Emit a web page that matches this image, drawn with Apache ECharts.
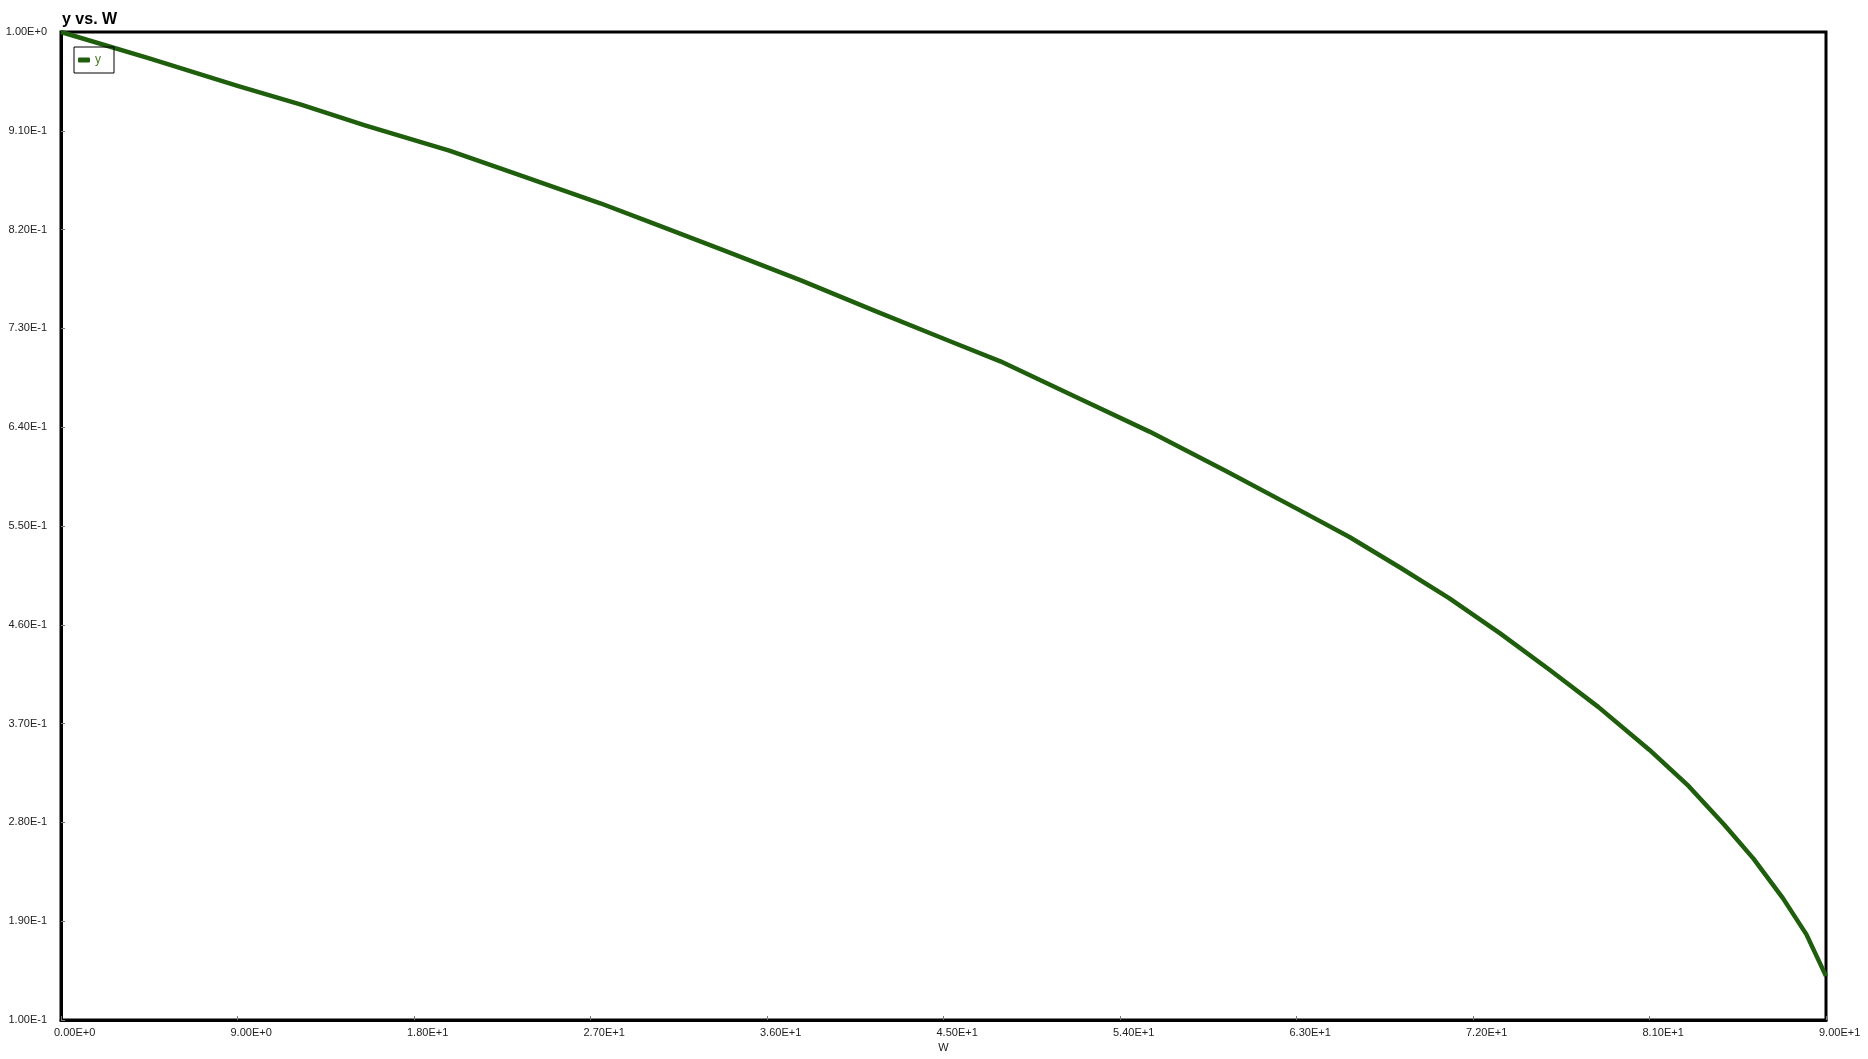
<!DOCTYPE html>
<html>
<head>
<meta charset="utf-8">
<script src="https://cdn.jsdelivr.net/npm/echarts@6/dist/echarts.min.js"></script>
<style>
html,body{margin:0;padding:0;background:#fff;}
#c{width:1868px;height:1059px;}
</style>
</head>
<body>
<div id="c"></div>
<script>
var W = [0, 4.5, 9, 12.2, 15.5, 19.8, 23.5, 27.5, 30.0, 33.8, 37.7, 41.5, 45.3, 47.9, 51.7, 55.5, 59.4, 63.2, 65.7, 68.3, 70.8, 73.4, 75.9, 78.4, 81.0, 83.0, 84.8, 86.3, 87.8, 89.0, 90.0];
var yVals = [1.000, 0.976, 0.951, 0.934, 0.915, 0.892, 0.869, 0.844, 0.827, 0.801, 0.774, 0.746, 0.7185, 0.700, 0.668, 0.636, 0.600, 0.564, 0.540, 0.512, 0.484, 0.452, 0.419, 0.385, 0.346, 0.313, 0.278, 0.247, 0.211, 0.178, 0.140];
var xTicks = [0, 9, 18, 27, 36, 45, 54, 63, 72, 81, 90];
var yTicks = [0.10, 0.19, 0.28, 0.37, 0.46, 0.55, 0.64, 0.73, 0.82, 0.91, 1.00];
var seriesName = 'y';
var titleText = 'y vs. W';
var xName = 'W';

function fmt(v) { return Number(v).toExponential(2).toUpperCase(); }

var chart = echarts.init(document.getElementById('c'));
chart.setOption({
  animation: false,
  backgroundColor: '#fff',
  title: {
    text: titleText, left: 57, top: 7,
    textStyle: { fontFamily: 'Liberation Sans, Arial', fontWeight: 'bold', fontSize: 16, color: '#000' }
  },
  legend: {
    left: 74, top: 47,
    orient: 'vertical',
    padding: [7, 13, 7, 4],
    borderColor: '#000', borderWidth: 1,
    itemWidth: 12, itemHeight: 5, itemGap: 0,
    icon: 'roundRect',
    textStyle: { fontFamily: 'Liberation Sans, Arial', fontSize: 12, color: '#4a7a2a' },
    data: [seriesName]
  },
  grid: {
    left: 61, right: 42, top: 32, bottom: 39,
    show: true, borderColor: '#000', borderWidth: 3, backgroundColor: '#fff'
  },
  xAxis: {
    type: 'value', min: 0, max: 90, interval: 9,
    name: xName, nameLocation: 'middle', nameGap: 20,
    nameTextStyle: { fontFamily: 'Liberation Sans, Arial', fontSize: 11, color: '#222' },
    axisLine: { show: true, lineStyle: { color: '#000', width: 3 } },
    axisTick: { show: true, inside: true, length: 4, lineStyle: { color: '#777', width: 1 }, customValues: xTicks },
    axisLabel: {
      show: true, customValues: xTicks, formatter: fmt, align: 'left', margin: 7,
      padding: [0, 0, 0, -7],
      fontFamily: 'Liberation Sans, Arial', fontSize: 11, color: '#222'
    },
    splitLine: { show: false }
  },
  yAxis: {
    type: 'value', min: 0.1, max: 1.0,
    axisLine: { show: true, lineStyle: { color: '#000', width: 3 } },
    axisTick: { show: true, inside: true, length: 4, lineStyle: { color: '#777', width: 1 }, customValues: yTicks },
    axisLabel: {
      show: true, customValues: yTicks, formatter: fmt, margin: 14,
      fontFamily: 'Liberation Sans, Arial', fontSize: 11, color: '#222'
    },
    splitLine: { show: false }
  },
  series: [{
    name: seriesName,
    type: 'line',
    data: W.map(function (w, i) { return [w, yVals[i]]; }),
    showSymbol: false, symbol: 'none',
    smooth: false,
    lineStyle: { color: '#1e5e0c', width: 4.5, join: 'round' },
    itemStyle: { color: '#1e5e0c' }
  }]
});
</script>
</body>
</html>
